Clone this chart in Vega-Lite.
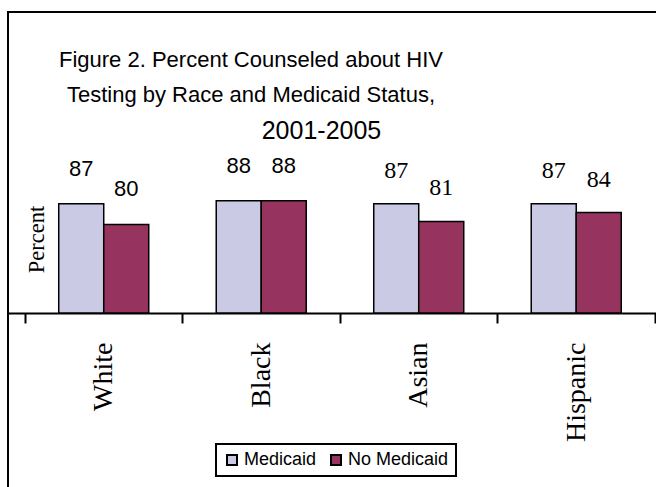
{
  "$schema": "https://vega.github.io/schema/vega-lite/v6.json",
  "width": 648,
  "height": 475,
  "autosize": {"type": "none"},
  "padding": {"left": 8, "top": 12, "right": 0, "bottom": 0},
  "background": "white",
  "title": {
    "text": ["Figure 2.  Percent Counseled about HIV", "Testing by Race and Medicaid Status,"],
    "font": "Liberation Sans, Arial",
    "fontSize": 22,
    "fontWeight": "normal",
    "color": "black",
    "lineHeight": 35,
    "anchor": "middle",
    "frame": "group",
    "offset": -95,
    "dx": -81
  },
  "data": {
    "values": [
      {"race": "White", "medicaid": "Medicaid", "value": 87},
      {"race": "White", "medicaid": "No Medicaid", "value": 80},
      {"race": "Black", "medicaid": "Medicaid", "value": 88},
      {"race": "Black", "medicaid": "No Medicaid", "value": 88},
      {"race": "Asian", "medicaid": "Medicaid", "value": 87},
      {"race": "Asian", "medicaid": "No Medicaid", "value": 81},
      {"race": "Hispanic", "medicaid": "Medicaid", "value": 87},
      {"race": "Hispanic", "medicaid": "No Medicaid", "value": 84}
    ]
  },
  "encoding": {
    "x": {
      "field": "race",
      "type": "nominal",
      "sort": null,
      "scale": {"paddingInner": 0, "paddingOuter": 0.0571, "align": 0.944},
      "axis": {
        "title": "2001-2005",
        "titleFont": "Liberation Sans, Arial",
        "titleFontSize": 25,
        "titleFontWeight": "normal",
        "titleColor": "black",
        "titleX": 313,
        "titleY": -174.7,
        "titleAlign": "center",
        "titleBaseline": "alphabetic",
        "titleAngle": 0,
        "offset": -174,
        "domainColor": "black",
        "domainWidth": 2,
        "tickColor": "black",
        "tickWidth": 2,
        "tickSize": 10,
        "tickBand": "extent",
        "labelAngle": -90,
        "labelFont": "Liberation Serif",
        "labelFontSize": 28,
        "labelColor": "black",
        "labelPadding": 19,
        "labelOverlap": false,
        "grid": false
      }
    },
    "xOffset": {
      "field": "medicaid",
      "type": "nominal",
      "sort": null,
      "scale": {"paddingInner": 0, "paddingOuter": 0.75}
    },
    "y": {
      "field": "value",
      "type": "quantitative",
      "stack": null,
      "scale": {"domain": [-9, 152], "nice": false, "zero": false},
      "axis": {
        "title": "Percent",
        "domain": false,
        "ticks": false,
        "labels": false,
        "grid": false,
        "titleFont": "Liberation Serif",
        "titleFontSize": 22.5,
        "titleFontWeight": "normal",
        "titleColor": "black",
        "titleAngle": -90,
        "titleX": 35.5,
        "titleY": 227,
        "titleBaseline": "alphabetic",
        "titleAlign": "center"
      }
    }
  },
  "layer": [
    {
      "mark": {"type": "bar", "stroke": "black", "strokeWidth": 1.5},
      "encoding": {
        "y2": {"datum": 50},
        "color": {
          "field": "medicaid",
          "type": "nominal",
          "scale": {"domain": ["Medicaid", "No Medicaid"], "range": ["#CBCAE5", "#96345F"]},
          "legend": {
            "title": null,
            "orient": "none",
            "legendX": 208,
            "legendY": 432,
            "direction": "horizontal",
            "symbolType": "square",
            "symbolSize": 100,
            "symbolStrokeColor": "black",
            "symbolStrokeWidth": 2,
            "labelFont": "Liberation Sans",
            "labelFontSize": 18,
            "labelColor": "black",
            "labelOffset": 3,
            "columnPadding": 10,
            "padding": 7,
            "strokeColor": "black"
          }
        }
      }
    },
    {
      "transform": [{"filter": "datum.race == 'White' || datum.race == 'Black'"}],
      "mark": {"type": "text", "font": "Liberation Sans", "fontSize": 22, "baseline": "alphabetic", "dy": -28, "color": "black"},
      "encoding": {"text": {"field": "value", "type": "quantitative"}}
    },
    {
      "transform": [{"filter": "datum.race == 'Asian' || datum.race == 'Hispanic'"}],
      "mark": {"type": "text", "font": "Liberation Serif", "fontSize": 24, "baseline": "alphabetic", "dy": -26, "color": "black"},
      "encoding": {"text": {"field": "value", "type": "quantitative"}}
    }
  ],
  "config": {
    "view": {"stroke": "black", "strokeWidth": 2, "strokeDash": [648, 1123, 475]},
    "legend": {"strokeWidth": 2}
  }
}
